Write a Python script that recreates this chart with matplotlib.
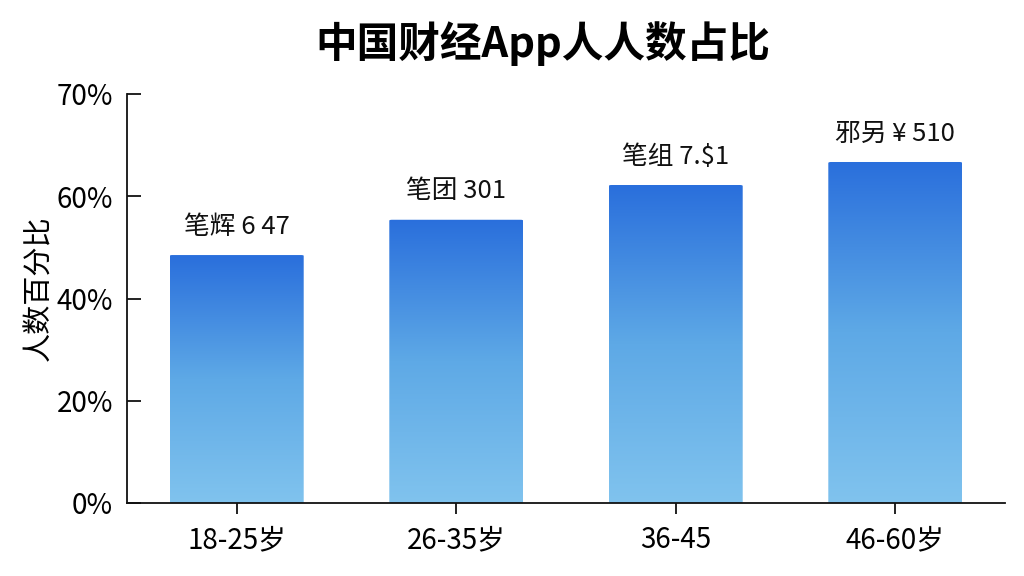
import numpy as np
import matplotlib.pyplot as plt
from matplotlib.colors import LinearSegmentedColormap
from matplotlib.patches import FancyBboxPatch

plt.rcParams['font.family'] = ['Noto Sans CJK SC', 'DejaVu Sans']

categories = ['18-25岁', '26-35岁', '36-45', '46-60岁']
values = [48.5, 55.4, 62.2, 66.7]
bar_labels = ['笔辉 6 47', '笔团 301', '笔组 7.$1', '邪另 ¥ 510']
ytick_pos = [0, 20, 40, 60, 80]
ytick_labels = ['0%', '20%', '40%', '60%', '70%']

fig = plt.figure(figsize=(10.24, 5.76), dpi=100)
ax = fig.add_axes([127 / 1024, 73 / 576, 878 / 1024, 409 / 576])

cmap = LinearSegmentedColormap.from_list('blu', ['#80c3ee', '#5ea9e6', '#2a6fdc'])
grad = np.linspace(0, 1, 256).reshape(-1, 1)

x = np.arange(len(categories))
width = 0.61
for xi, v, lab in zip(x, values, bar_labels):
    patch = FancyBboxPatch((xi - width / 2, 0), width, v,
                           boxstyle='round,pad=0,rounding_size=0.012',
                           mutation_aspect=v / 0.61 * 0.15,
                           facecolor='none', edgecolor='none')
    ax.add_patch(patch)
    im = ax.imshow(grad, cmap=cmap, aspect='auto', origin='lower',
                   extent=(xi - width / 2, xi + width / 2, 0, v), zorder=2)
    im.set_clip_path(patch)
    ax.text(xi, v + 3.0, lab, ha='center', va='bottom', fontsize=18.5, color='#111111')

ax.set_xlim(-0.5, 3.5)
ax.set_ylim(0, 80)
ax.set_xticks(x)
ax.set_xticklabels(categories, fontsize=20)
ax.set_yticks(ytick_pos)
ax.set_yticklabels(ytick_labels, fontsize=20)
ax.tick_params(axis='x', length=8, width=1.3, color='#111111', pad=8)
ax.tick_params(axis='y', direction='in', length=10, width=1.3, color='#111111', pad=10)
for s in ['top', 'right']:
    ax.spines[s].set_visible(False)
for s in ['left', 'bottom']:
    ax.spines[s].set_linewidth(1.3)
    ax.spines[s].set_color('#111111')

ax.set_ylabel('人数百分比', fontsize=21)
ax.yaxis.set_label_coords(-0.083, 0.526)
fig.text(0.53, 0.925, '中国财经App人人数占比', ha='center', va='center',
         fontsize=30, fontweight='bold')

fig.savefig('out.png', dpi=100)
